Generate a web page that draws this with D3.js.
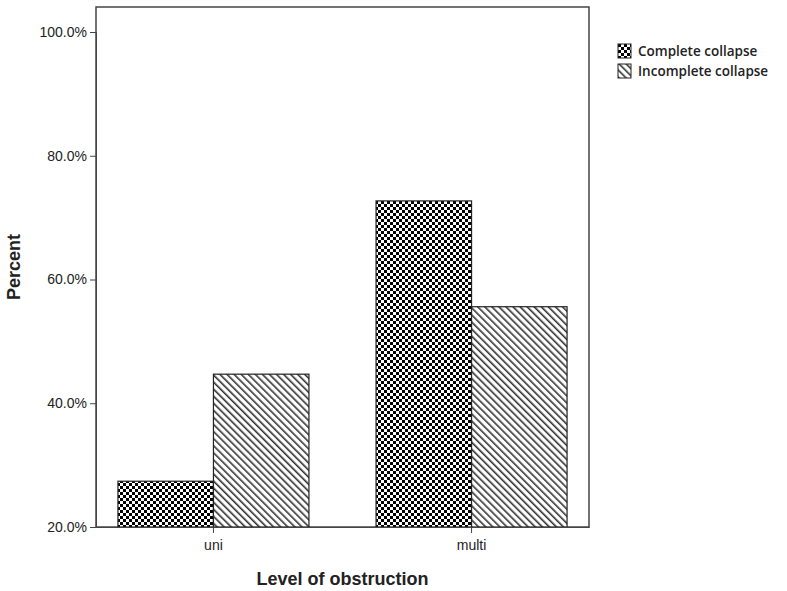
<!DOCTYPE html><html><head><script src="https://d3js.org/d3.v7.min.js"></script>
<style>body{margin:0;background:#fff}</style></head><body><script>
const categories=["uni","multi"];
const seriesNames=["Complete collapse","Incomplete collapse"];
const complete=[27.4,72.7];
const incomplete=[44.7,55.6];
const yTicks=[20,40,60,80,100];
const W=787,H=591,m={l:96,t:7,r:589,b:527};
const svg=d3.select("body").append("svg").attr("width",W).attr("height",H);
const defs=svg.append("defs");
const pc=defs.append("pattern").attr("id","chk").attr("patternUnits","userSpaceOnUse").attr("width",6).attr("height",6);
pc.append("rect").attr("width",6).attr("height",6).attr("fill","#fff");
pc.append("rect").attr("width",3).attr("height",3).attr("fill","#000");
pc.append("rect").attr("x",3).attr("y",3).attr("width",3).attr("height",3).attr("fill","#000");
const pd=defs.append("pattern").attr("id","diag").attr("patternUnits","userSpaceOnUse").attr("width",5).attr("height",5).attr("patternTransform","rotate(-45)");
pd.append("rect").attr("width",5).attr("height",5).attr("fill","#fff");
pd.append("rect").attr("width",1.6).attr("height",5).attr("fill","#333");
const x=d3.scaleBand().domain(categories).range([m.l,m.r]).paddingInner(0.26).paddingOuter(0.085);
const xs=d3.scaleBand().domain(seriesNames).range([0,x.bandwidth()]);
const y=d3.scaleLinear().domain([20,100]).range([m.b,32]);
svg.append("rect").attr("x",m.l).attr("y",m.t).attr("width",m.r-m.l).attr("height",m.b-m.t).attr("fill","none").attr("stroke","#444").attr("stroke-width",1.5);
const fills=["url(#chk)","url(#diag)"];
[complete,incomplete].forEach((vals,si)=>{
 svg.selectAll(null).data(categories).enter().append("rect")
  .attr("x",c=>x(c)+xs(seriesNames[si])).attr("width",xs.bandwidth())
  .attr("y",(c,i)=>y(vals[i])).attr("height",(c,i)=>y(20)-y(vals[i]))
  .attr("fill",fills[si]).attr("stroke","#222").attr("stroke-width",1.2);
});
const ya=svg.append("g").attr("transform",`translate(${m.l},0)`).call(d3.axisLeft(y).tickValues(yTicks).tickSize(6).tickFormat(d=>d.toFixed(1)+"%"));
const xa=svg.append("g").attr("transform",`translate(0,${m.b})`).call(d3.axisBottom(x).tickSize(6).tickSizeOuter(0));
[ya,xa].forEach(a=>{a.select(".domain").attr("stroke","#444");a.selectAll("line").attr("stroke","#444");a.selectAll("text").attr("font-family","Liberation Sans, Arial").attr("font-size",14).attr("fill","#222");});
xa.selectAll("text").attr("dy","1em");
svg.append("text").attr("x",(m.l+m.r)/2).attr("y",585).attr("text-anchor","middle").attr("font-family","Liberation Sans, Arial").attr("font-weight","bold").attr("font-size",18).attr("fill","#222").text("Level of obstruction");
svg.append("text").attr("transform",`translate(20,${(m.t+m.b)/2}) rotate(-90)`).attr("text-anchor","middle").attr("font-family","Liberation Sans, Arial").attr("font-weight","bold").attr("font-size",18).attr("fill","#222").text("Percent");
const lg=svg.append("g").attr("transform","translate(618,44)");
seriesNames.forEach((n,i)=>{
 const g=lg.append("g").attr("transform",`translate(0,${i*20})`);
 g.append("rect").attr("width",13).attr("height",14).attr("fill",fills[i]).attr("stroke","#222");
 g.append("text").attr("x",20).attr("y",12).attr("font-family","Open Sans, Liberation Sans").attr("font-size",13.5).attr("font-weight",600).attr("fill","#222").text(n);
});
</script></body></html>
